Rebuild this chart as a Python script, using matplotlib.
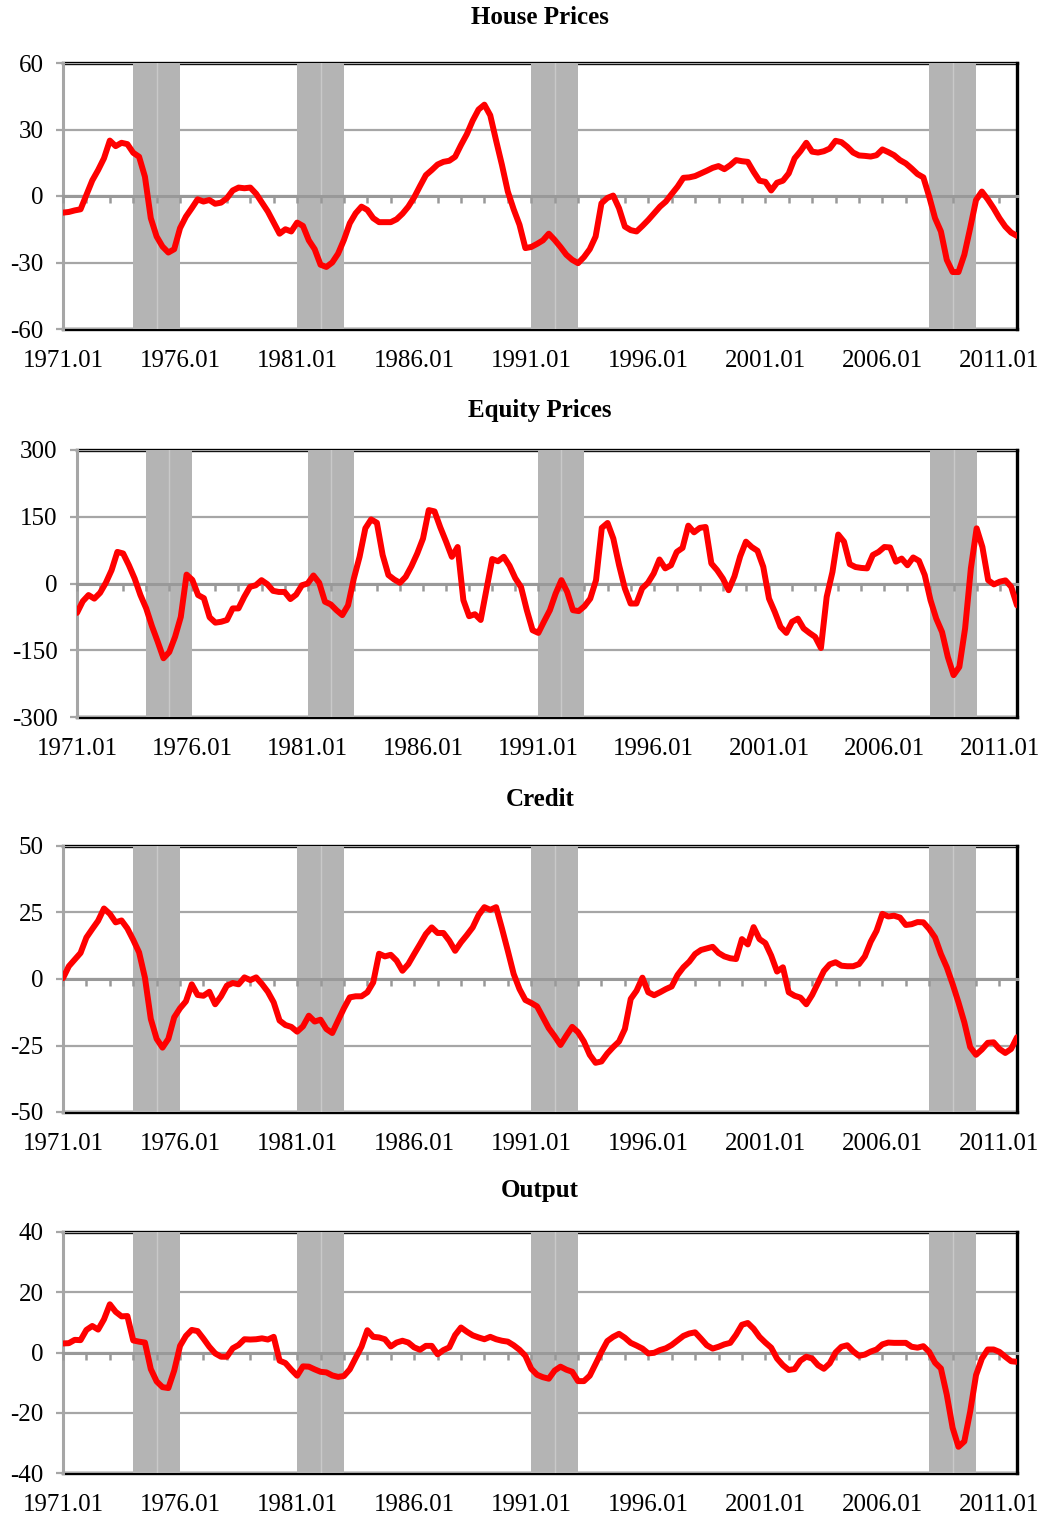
import numpy as np
import matplotlib
matplotlib.use("Agg")
import matplotlib.pyplot as plt

plt.rcParams['font.family'] = ['Liberation Serif', 'DejaVu Serif']

# quarterly data, 1971Q1 .. 2011Q4
quarters = np.arange(164)
year_labels = ['1971.01', '1976.01', '1981.01', '1986.01', '1991.01',
               '1996.01', '2001.01', '2006.01', '2011.01']
label_pos = np.arange(0, 164, 20)

# recession periods: start quarter index, length in quarters
rec_start = [12, 40, 80, 148]
rec_len = 8

house = [-7.5, -7.2, -6.5, -6, 0.5, 7, 11.7, 17, 25, 22.5,
         24, 23.4, 19.5, 17.7, 8.7, -10, -18.3, -22.8, -25.5, -24,
         -14.5, -9.3, -5.5, -1.5, -2.5, -1.8, -3.5, -3, -1, 2.5,
         3.8, 3.5, 3.8, 1, -3, -7, -12, -17, -15, -16,
         -12, -13.5, -20, -24, -31, -32, -30, -26, -19.8, -12.3,
         -7.8, -4.8, -6.3, -10, -11.8, -11.8, -11.8, -10.5, -8, -4.8,
         -0.6, 4.5, 9.4, 11.7, 14.2, 15.4, 15.9, 17.7, 23, 27.9,
         34, 39, 41.2, 36.4, 25, 14, 2, -6, -13, -23.5,
         -23, -21.6, -20, -17, -19.8, -23, -26.5, -28.8, -30.3, -27.6,
         -24, -18.3, -3.3, -0.9, 0.2, -5.5, -13.8, -15.4, -16, -13.5,
         -10.8, -7.8, -4.8, -2.5, 0.9, 4.2, 8.2, 8.4, 9, 10.2,
         11.4, 12.7, 13.5, 12.1, 13.9, 16.2, 15.7, 15.4, 10.9, 6.9,
         6.4, 2.5, 6, 6.9, 10.2, 17, 20.2, 24, 20, 19.6,
         20.2, 21.4, 24.9, 24.3, 22.2, 19.6, 18.3, 18.1, 17.8, 18.4,
         21, 19.8, 18.4, 16.2, 14.7, 12.4, 9.9, 8.4, -0.3, -10,
         -16, -28.8, -34.3, -34.3, -26.5, -14.5, -1.8, 2, -1.5, -5.5,
         -10, -13.8, -16.5, -18]

equity = [-66, -40, -26, -34, -21, 1.5, 30, 71, 67.5, 41,
          11, -26, -56, -96, -131, -168, -154, -120, -75, 20,
          8, -26, -33, -76, -88, -86, -82, -56, -56, -30,
          -7.5, -4, 7.5, -1.5, -16.5, -19, -19, -35, -25, -4,
          0, 18, 1.5, -41, -47, -60, -71, -49, 11, 60,
          124, 144, 136.5, 64, 19, 9, 1.5, 15, 39, 67.5,
          101, 165, 162, 126, 94, 60, 82, -37.5, -73.5, -69,
          -82, -13.5, 55, 50, 60, 40, 12, -8, -60, -105,
          -111, -85, -60, -22.5, 7.5, -19, -60, -62, -51, -34,
          7.5, 125, 136, 101, 41, -11, -45, -45, -11, 1.5,
          22.5, 54, 34, 41, 71, 80, 130, 115, 125, 127,
          45, 30, 11, -15, 16, 61, 94, 82, 73.5, 37.5,
          -34, -64, -97.5, -111, -86, -79, -101, -111, -120, -145,
          -30, 26, 110, 94, 43.5, 37, 35, 34, 64, 71,
          82, 81, 49, 56, 41, 58.5, 51, 19, -37.5, -79,
          -109, -165, -206, -187.5, -101, 34, 124, 82, 7.5, -2,
          4, 7, -7.5, -49]

credit = [0.3, 4.8, 7.3, 9.8, 15.6, 18.8, 21.9, 26.5, 24.5, 21.3,
          22, 19, 14.7, 10, 0.5, -15, -22.5, -25.8, -22.5, -14.4,
          -11, -8.4, -2, -6, -6.3, -4.8, -9.5, -6.5, -2.5, -1.5,
          -2, 0.6, -0.4, 0.6, -1.9, -4.8, -8.8, -15.6, -17.3, -18,
          -19.8, -17.8, -13.8, -16, -15.3, -18.8, -20.3, -15.6, -11, -6.9,
          -6.5, -6.5, -5, -1.3, 9.5, 8.5, 9.1, 6.9, 3.1, 5.6,
          9.4, 13.1, 16.9, 19.4, 17.3, 17.3, 14.4, 10.6, 13.8, 16.5,
          19.4, 24, 27, 26, 27, 19, 10.6, 1.9, -3.8, -7.9,
          -9, -10.3, -14.4, -18.5, -21.5, -24.8, -21.3, -18, -20, -23.5,
          -28.5, -31.5, -31, -28, -25.6, -23.5, -18.8, -7.5, -4.4, 0.5,
          -5, -6.1, -5, -3.8, -2.8, 1.5, 4.4, 6.5, 9.4, 10.9,
          11.5, 12.1, 9.8, 8.5, 7.8, 7.5, 15, 13, 19.5, 15,
          13.5, 8.8, 2.8, 4.4, -5, -6.3, -7, -9.5, -6, -1.5,
          3, 5.5, 6.3, 5, 4.8, 4.8, 5.6, 8.5, 14, 18.1,
          24.5, 23.5, 23.8, 23.1, 20.3, 20.6, 21.4, 21.3, 18.8, 15.6,
          9.4, 4.4, -1.9, -8.8, -16.3, -25.6, -28.5, -26.5, -24, -23.8,
          -26.3, -27.8, -26.3, -21.9]

output = [3, 3.1, 4.2, 4.1, 7.5, 8.8, 7.6, 11, 16, 13.5,
          12, 12.1, 4, 3.6, 3.3, -5.5, -9.6, -11.5, -11.8, -6,
          2.2, 5.5, 7.5, 7.1, 4.6, 1.9, -0.3, -1.4, -1.4, 1.4,
          2.5, 4.4, 4.3, 4.4, 4.7, 4.3, 5.2, -2.7, -3.5, -5.7,
          -7.7, -4.6, -4.7, -5.6, -6.4, -6.6, -7.6, -8.1, -7.8, -5.6,
          -1.8, 1.9, 7.4, 5.2, 5, 4.4, 2, 3.3, 3.9, 3.3,
          1.7, 0.9, 2.2, 2.2, -0.6, 0.8, 1.7, 5.8, 8.3, 6.9,
          5.7, 5, 4.4, 5.2, 4.4, 3.9, 3.6, 2.4, 0.9, -1.1,
          -5.4, -7.4, -8.2, -8.7, -6, -4.7, -5.7, -6.4, -9.5, -9.5,
          -7.7, -3.8, 0.2, 3.8, 5.2, 6.2, 4.9, 3.2, 2.3, 1.3,
          -0.3, -0.1, 0.8, 1.4, 2.5, 4, 5.5, 6.3, 6.7, 4.6,
          2.4, 1.3, 1.9, 2.7, 3.2, 5.9, 9.2, 9.8, 7.9, 5.2,
          3.3, 1.6, -2, -4.2, -5.8, -5.5, -2.7, -1.4, -2, -4.2,
          -5.4, -3.6, 0, 1.9, 2.4, 0.4, -1.1, -0.7, 0.3, 1,
          2.7, 3.3, 3.2, 3.2, 3.2, 1.9, 1.6, 2.1, 0.2, -3.4,
          -5.3, -14, -25, -31.3, -29.5, -19.6, -7.5, -2, 1, 1,
          0.2, -1.4, -2.9, -3.1]

titles = ['House Prices', 'Equity Prices', 'Credit', 'Output']
series = [house, equity, credit, output]
y_ticks = [[-60, -30, 0, 30, 60],
           [-300, -150, 0, 150, 300],
           [-50, -25, 0, 25, 50],
           [-40, -20, 0, 20, 40]]

W, H = 1047, 1518
# axes boxes in pixels: left, top, right, bottom
boxes = [(63, 63, 1017, 329),
         (77, 450, 1017, 717),
         (63, 846, 1017, 1112),
         (63, 1232, 1017, 1473)]
title_y = [18, 410, 800, 1191]

FS = 18
GRID = '#a6a6a6'
SHADE = '#b4b4b4'

fig = plt.figure(figsize=(W / 100, H / 100), dpi=100)

for k in range(4):
    l, t, r, b = boxes[k]
    ax = fig.add_axes([l / W, 1 - b / H, (r - l) / W, (b - t) / H])
    yt = y_ticks[k]

    # recession shading (two bars per episode, thin light line between)
    for s in rec_start:
        ax.axvspan(s, s + rec_len, color=SHADE, lw=0, zorder=2)
        ax.axvline(s + rec_len / 2, color='#c9c9c9', lw=1, zorder=2.1)

    ax.plot(quarters, series[k], color='#ff0000', lw=4.3, zorder=4,
            solid_joinstyle='round', solid_capstyle='round')

    ax.set_xlim(0, 163)
    ax.set_ylim(yt[0], yt[-1])
    ax.set_yticks(yt)
    ax.set_yticklabels([str(v) for v in yt])

    # horizontal grid below the shading
    ax.yaxis.grid(True, color=GRID, lw=1.6)
    ax.yaxis.set_zorder(1)
    ax.tick_params(axis='y', direction='out', length=5, width=1.6,
                   color=GRID, labelsize=FS, pad=9)

    # category axis crossing at zero, ticks every year
    ax.spines['bottom'].set_position(('data', 0))
    ax.spines['bottom'].set_color('#999999')
    ax.spines['bottom'].set_linewidth(2.2)
    ax.spines['bottom'].set_zorder(3.5)
    ax.xaxis.set_zorder(3.5)
    ax.set_xticks(np.arange(0, 164, 4))
    ax.tick_params(axis='x', direction='out', length=5, width=1.8,
                   color='#999999', labelbottom=False)

    ax.spines['left'].set_color(GRID)
    ax.spines['left'].set_linewidth(2.2)
    ax.spines['top'].set_color('black')
    ax.spines['top'].set_linewidth(2.4)
    ax.spines['top'].set_zorder(1)
    ax.spines['right'].set_color('black')
    ax.spines['right'].set_linewidth(2.4)

    # bottom border with the year labels
    sec = ax.secondary_xaxis('bottom')
    sec.set_xticks(label_pos)
    sec.set_xticklabels(year_labels)
    sec.tick_params(length=0, labelsize=FS, pad=15)
    sec.spines['bottom'].set_color('black')
    sec.spines['bottom'].set_linewidth(2.4)

    fig.text(540 / W, 1 - title_y[k] / H, titles[k],
             ha='center', va='center', fontsize=FS, fontweight='bold')

fig.savefig('out.png', dpi=100)
